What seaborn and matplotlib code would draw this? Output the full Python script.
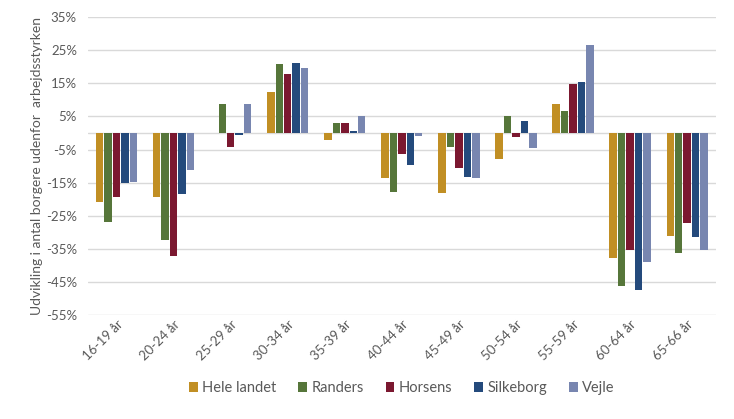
import numpy as np
import pandas as pd
import matplotlib
matplotlib.use("Agg")
import matplotlib.pyplot as plt
import seaborn as sns

# Data (in %)
age_groups = ["16-19 år", "20-24 år", "25-29 år", "30-34 år", "35-39 år",
              "40-44 år", "45-49 år", "50-54 år", "55-59 år", "60-64 år",
              "65-66 år"]
areas = ["Hele landet", "Randers", "Horsens", "Silkeborg", "Vejle"]

hele_landet = [-20.8, -19.2, 0.0, 12.5, -2.0, -13.7, -18.0, -7.8, 8.8, -37.8, -31.2]
randers = [-26.8, -32.3, 8.8, 20.8, 3.0, -17.7, -4.2, 5.2, 6.6, -46.1, -36.3]
horsens = [-19.2, -37.3, -4.2, 17.9, 3.0, -6.4, -10.5, -1.3, 14.7, -35.2, -27.2]
silkeborg = [-15.0, -18.3, -0.5, 21.2, 0.5, -9.6, -13.3, 3.7, 15.4, -47.5, -31.3]
vejle = [-14.8, -11.2, 8.8, 19.7, 5.2, -0.8, -13.7, -4.6, 26.7, -39.1, -35.2]

colors = ["#C18F24", "#56763A", "#7B1830", "#244A7C", "#7886B0"]

series = [hele_landet, randers, horsens, silkeborg, vejle]
rows = []
for area, values in zip(areas, series):
    for age, v in zip(age_groups, values):
        rows.append({"age": age, "area": area, "value": v})
df = pd.DataFrame(rows)

sns.set_theme(style="white")
plt.rcParams["font.family"] = ["Lato", "DejaVu Sans"]

fig = plt.figure(figsize=(7.34, 4.19), dpi=100)
ax = fig.add_axes([0.12, 0.248, 0.855, 0.711])

ticks = np.arange(-55, 36, 10)
for t in ticks:
    ax.axhline(t, color="#D9D9D9", linewidth=1, zorder=0)
ax.axhline(0, color="#D9D9D9", linewidth=1, zorder=0)

sns.barplot(
    data=df,
    x="age",
    y="value",
    hue="area",
    hue_order=areas,
    palette=colors,
    width=0.74,
    gap=0.12,
    saturation=1,
    linewidth=0,
    ax=ax,
    zorder=2,
)

ax.set_ylim(-55, 35)
ax.set_xlim(-0.5, len(age_groups) - 0.5)
ax.set_yticks(ticks)
ax.set_yticklabels([f"{t}%" for t in ticks], color="#595959", fontsize=9.5)
ax.tick_params(axis="x", length=0, pad=2)
ax.tick_params(axis="y", length=0, pad=8)
plt.setp(ax.get_xticklabels(), rotation=45, ha="right", rotation_mode="anchor",
         color="#595959", fontsize=9.5)

ax.set_xlabel("")
ax.set_ylabel("Udvikling i antal borgere udenfor  arbejdsstyrken",
              color="#595959", fontsize=10, labelpad=2)

for side in ["top", "right", "left", "bottom"]:
    ax.spines[side].set_visible(False)

handles, labels = ax.get_legend_handles_labels()
ax.legend(handles, labels, loc="center", bbox_to_anchor=(0.5, -0.245),
          ncol=5, frameon=False, fontsize=10.5, handlelength=0.6,
          handleheight=0.6, handletextpad=0.3, columnspacing=1.5,
          labelcolor="#595959")

plt.savefig("out.png", dpi=100)
plt.close()
